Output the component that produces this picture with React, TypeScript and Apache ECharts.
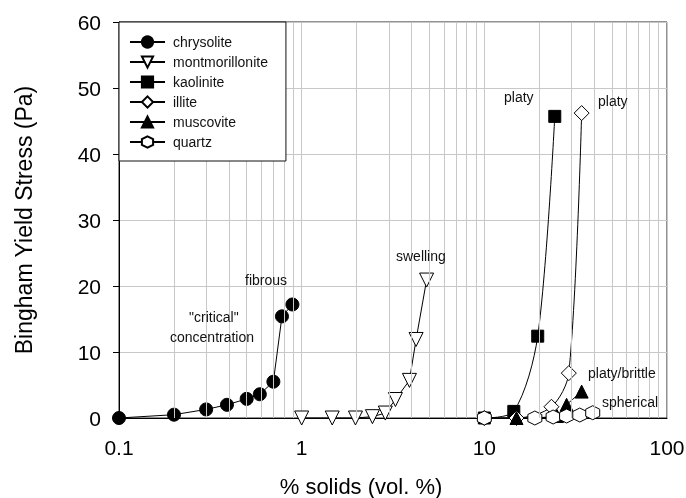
import React, { useEffect, useRef } from "react";
import * as echarts from "echarts";

// % solids (vol. %), Bingham yield stress (Pa)
const chrysolite: number[][] = [
  [0.1, 0], [0.2, 0.5], [0.3, 1.3], [0.39, 2.0], [0.5, 2.9], [0.59, 3.6], [0.7, 5.5], [0.78, 15.4], [0.89, 17.2],
];
const montmorillonite: number[][] = [
  [1.0, 0], [1.47, 0], [1.97, 0], [2.44, 0.2], [2.87, 0.75], [3.26, 2.8], [3.89, 5.7], [4.23, 11.9], [4.83, 20.9],
];
const kaolinite: number[][] = [
  [10, 0], [14.5, 1.0], [19.6, 12.4], [24.3, 45.7],
];
const illite: number[][] = [
  [10, 0], [15, 0], [23.3, 1.7], [29, 6.8], [34.1, 46.2],
];
const muscovite: number[][] = [
  [15, 0], [25, 0.3], [28.2, 2.0], [34.1, 4.0],
];
const quartz: number[][] = [
  [10, 0], [18.9, 0], [23.8, 0.15], [28.2, 0.3], [33.3, 0.45], [39.2, 0.8],
];

const seriesNames = ["chrysolite", "montmorillonite", "kaolinite", "illite", "muscovite", "quartz"];
const minorGridValues = [0.2, 0.3, 0.4, 0.5, 0.6, 0.7, 0.8, 0.9, 2, 3, 4, 5, 6, 7, 8, 9, 20, 30, 40, 50, 60, 70, 80, 90];
const annotations = [
  { text: "fibrous", left: 245, top: 273 },
  { text: "\"critical\"", left: 189, top: 310 },
  { text: "concentration", left: 170, top: 330 },
  { text: "swelling", left: 396, top: 249 },
  { text: "platy", left: 504, top: 90 },
  { text: "platy", left: 598, top: 94 },
  { text: "platy/brittle", left: 588, top: 366 },
  { text: "spherical", left: 602, top: 395 },
];

const FONT = '"Liberation Sans", Arial, sans-serif';
const HEX = "path://M0,-1 L0.866,-0.5 L0.866,0.5 L0,1 L-0.866,0.5 L-0.866,-0.5 Z";

export default function App() {
  const ref = useRef<HTMLDivElement>(null);
  useEffect(() => {
    const chart = echarts.init(ref.current!, null, { renderer: "svg" });
    const line = { color: "#000", width: 1 };
    const filled = { color: "#000", borderColor: "#000", borderWidth: 1 };
    const hollow = { color: "#fff", borderColor: "#000", borderWidth: 1 };
    const mk = (name: string, data: number[][], symbol: string, size: number, style: any, extra: any = {}) => ({
      name,
      type: "line",
      data,
      symbol,
      symbolSize: size,
      showAllSymbol: true,
      lineStyle: line,
      itemStyle: style,
      z: 3,
      ...extra,
    });
    chart.setOption({
      animation: false,
      textStyle: { fontFamily: FONT },
      grid: {
        left: 119, top: 22, right: 19, bottom: 80,
        containLabel: false,
        outerBoundsMode: "none",
        show: true, borderColor: "#222", borderWidth: 1, backgroundColor: "transparent",
      },
      legend: {
        data: seriesNames,
        orient: "vertical",
        left: 119,
        top: 22,
        itemWidth: 35,
        itemHeight: 14,
        itemGap: 6,
        padding: [13, 18, 12, 10],
        backgroundColor: "#fff",
        borderColor: "#111",
        borderWidth: 1,
        textStyle: { fontSize: 14, color: "#111", fontFamily: FONT, padding: [0, 0, 0, 3] },
        z: 10,
      },
      xAxis: {
        type: "log",
        logBase: 10,
        min: 0.1,
        max: 100,
        name: "% solids (vol. %)",
        nameLocation: "middle",
        nameGap: 57,
        nameTextStyle: { fontSize: 22, color: "#000", fontFamily: FONT, padding: [0, 64, 0, 0] },
        axisLine: { lineStyle: { color: "#000", width: 1 } },
        axisTick: { show: false },
        axisLabel: { fontSize: 21, color: "#000", margin: 19, fontFamily: FONT },
        splitLine: { show: true, lineStyle: { color: "#c8c8c8", width: 1 } },
      },
      yAxis: {
        type: "value",
        min: 0,
        max: 60,
        interval: 10,
        name: "Bingham Yield Stress (Pa)",
        nameLocation: "middle",
        nameGap: 84,
        nameTextStyle: { fontSize: 23, color: "#000", fontFamily: FONT },
        axisLine: { show: true, lineStyle: { color: "#000", width: 1 } },
        axisTick: { show: true, length: 6, lineStyle: { color: "#000" } },
        axisLabel: { fontSize: 21, color: "#000", margin: 18, fontFamily: FONT },
        splitLine: { show: true, lineStyle: { color: "#c8c8c8", width: 1 } },
      },
      series: [
        {
          name: "_grid",
          type: "line",
          data: [],
          z: 1,
          silent: true,
          markLine: {
            silent: true,
            symbol: "none",
            label: { show: false },
            lineStyle: { color: "#c8c8c8", width: 1, type: "solid" },
            data: minorGridValues.map((v) => ({ xAxis: v })),
          },
        },
        mk("chrysolite", chrysolite, "circle", 13, filled),
        mk("montmorillonite", montmorillonite, "triangle", 14, hollow, { symbolRotate: 180 }),
        mk("kaolinite", kaolinite, "rect", 12, filled, { smooth: 0.3 }),
        mk("illite", illite, "diamond", 15, hollow, { smooth: 0.3 }),
        mk("muscovite", muscovite, "triangle", 13, filled, { smooth: 0.2 }),
        mk("quartz", quartz, HEX, 14, hollow),
      ],
      graphic: annotations.map((a) => ({
        type: "text",
        left: a.left,
        top: a.top,
        z: 20,
        style: { text: a.text, font: `14px ${FONT}`, fill: "#111" },
      })),
    });
    return () => chart.dispose();
  }, []);
  return <div ref={ref} style={{ position: "fixed", left: 0, top: 0, width: 686, height: 498 }} />;
}
